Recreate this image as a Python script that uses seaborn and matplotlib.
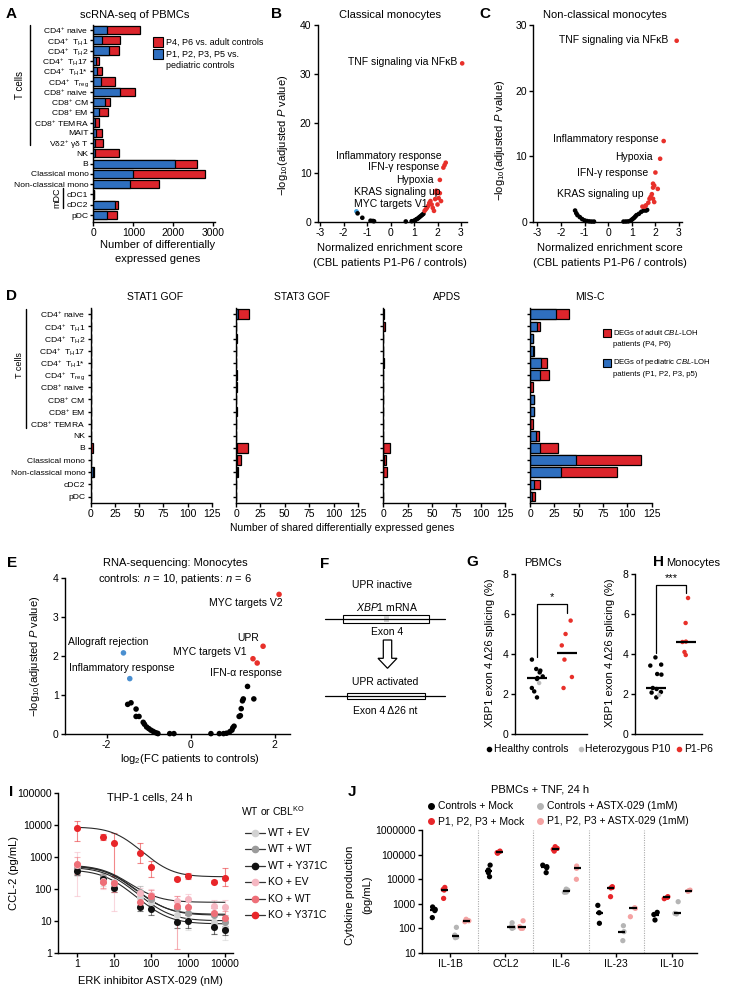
import numpy as np
import pandas as pd
import matplotlib
matplotlib.use('Agg')
import matplotlib.pyplot as plt
import seaborn as sns
from matplotlib.lines import Line2D
from matplotlib.patches import Rectangle, Polygon
from matplotlib.ticker import NullLocator

# ---------------- DATA ----------------
# Panel A
a_cells = [r'CD4$^{+}$ naive', r'CD4$^{+}$  T$_{\rm H}$1', r'CD4$^{+}$  T$_{\rm H}$2', r'CD4$^{+}$  T$_{\rm H}$17',
           r'CD4$^{+}$  T$_{\rm H}$1*', r'CD4$^{+}$  T$_{\rm reg}$', r'CD8$^{+}$ naive', r'CD8$^{+}$ CM', r'CD8$^{+}$ EM',
           r'CD8$^{+}$ TEMRA', 'MAIT', r'Vδ2$^{+}$ γδ T', 'NK', 'B', 'Classical mono', 'Non-classical mono',
           'cDC1', 'cDC2', 'pDC']
a_pediatric = [350, 210, 390, 60, 85, 190, 670, 300, 150, 45, 70, 50, 40, 2040, 1000, 910, 15, 540, 330]
a_total = [1170, 670, 650, 150, 225, 540, 1040, 420, 375, 140, 210, 233, 640, 2600, 2800, 1630, 25, 625, 600]

# Panel B
b_nes = [-1.45, -1.4, -1.2, -0.85, -0.75, -0.7, 0.65, 0.9, 1.0, 1.05, 1.1, 1.15, 1.2, 1.25, 1.3, 1.35, 1.4,
         1.45, 1.5, 1.55, 1.6, 1.65, 1.7, 1.75, 1.8, 1.85, 1.9, 1.95, 2.0, 2.05, 2.1, 2.15, 2.0, 1.95, 2.1, 2.25, 2.3, 2.35, 3.05]
b_logp = [2.1, 1.7, 0.8, 0.2, 0.15, 0.1, 0.05, 0.1, 0.2, 0.3, 0.5, 0.6, 0.8, 1.0, 1.2, 1.4, 1.6,
          2.2, 2.5, 2.8, 3.2, 3.8, 4.2, 3.5, 2.8, 2.2, 4.6, 5.8, 6.0, 4.8, 5.8, 4.2, 3.5, 6.3, 8.5, 11.0, 11.5, 12.0, 32.2]
b_cls = ['down'] + ['ns'] * 16 + ['up'] * 22
b_labels = ['TNF signaling via NFκB', 'Inflammatory response', 'IFN-γ response', 'Hypoxia', 'KRAS signaling up', 'MYC targets V1']
b_label_x = [2.83, 2.18, 2.08, 1.85, 2.11, 1.57]
b_label_y = [32.5, 13.4, 11.2, 8.5, 6.0, 3.7]

# Panel C
c_nes = [-1.4, -1.35, -1.3, -1.2, -1.1, -1.0, -0.9, -0.8, -0.7, -0.6,
         0.65, 0.75, 0.85, 0.95, 1.0, 1.05, 1.1, 1.15, 1.2, 1.3, 1.4, 1.5, 1.6, 1.65,
         1.45, 1.55, 1.6, 1.7, 1.75, 1.8, 1.85, 1.9, 1.95, 1.9, 1.95, 2.1, 1.9, 2.0, 2.2, 2.35, 2.9]
c_logp = [1.7, 1.3, 1.0, 0.7, 0.4, 0.2, 0.1, 0.05, 0.02, 0.02,
          0.02, 0.03, 0.05, 0.15, 0.3, 0.45, 0.6, 0.8, 1.0, 1.2, 1.5, 1.7, 1.7, 1.8,
          2.3, 2.3, 2.5, 2.9, 3.5, 3.8, 4.2, 3.5, 3.0, 5.8, 5.5, 5.0, 5.2, 7.5, 9.6, 12.3, 27.6]
c_cls = ['ns'] * 24 + ['up'] * 17
c_labels = ['TNF signaling via NFκB', 'Inflammatory response', 'Hypoxia', 'IFN-γ response', 'KRAS signaling up']
c_label_x = [2.55, 2.12, 1.885, 1.70, 1.49]
c_label_y = [27.7, 12.6, 9.9, 7.5, 4.2]

# Panel D
d_cells = [r'CD4$^{+}$ naive', r'CD4$^{+}$  T$_{\rm H}$1', r'CD4$^{+}$  T$_{\rm H}$2', r'CD4$^{+}$  T$_{\rm H}$17',
           r'CD4$^{+}$  T$_{\rm H}$1*', r'CD4$^{+}$  T$_{\rm reg}$', r'CD8$^{+}$ naive', r'CD8$^{+}$ CM', r'CD8$^{+}$ EM',
           r'CD8$^{+}$ TEMRA', 'NK', 'B', 'Classical mono', 'Non-classical mono', 'cDC2', 'pDC']
d_titles = ['STAT1 GOF', 'STAT3 GOF', 'APDS', 'MIS-C']
stat1_total = [0, 0, 0, 0, 0, 0, 0, 0, 0, 0, 0, 2, 0, 3, 0, 0]
stat1_ped = [0, 0, 0, 0, 0, 0, 0, 0, 0, 0, 0, 0, 0, 2, 0, 0]
stat3_total = [13, 0, 1, 0, 0, 1.5, 1, 0, 1, 0, 0, 12, 5, 2, 0, 0]
stat3_ped = [2, 0, 0, 0, 0, 0, 0, 0, 0, 0, 0, 1, 1, 1, 0, 0]
apds_total = [1, 2, 0, 0, 1, 0, 0, 0, 0, 0, 0, 7, 3, 4, 0, 0]
apds_ped = [0, 0, 0, 0, 0, 0, 0, 0, 0, 0, 0, 0, 1, 0, 0, 0]
misc_total = [40, 10.6, 3.5, 4, 17, 20, 3, 4, 4, 3, 9, 29, 114, 89, 10, 5]
misc_ped = [27, 7, 3, 3, 11, 10, 0.5, 4, 4, 0.5, 6, 10, 47, 32, 4.5, 2]

# Panel E
e_fc = [2.1, 1.72, 1.48, 1.58, -1.6, -1.45,
        -1.5, -1.42, -1.3, -1.3, -1.23, -1.13, -1.1, -1.05, -1.0, -0.95, -0.9, -0.85, -0.8, -0.78, -0.5, -0.4,
        0.48, 0.68, 0.78, 0.85, 0.93, 0.98, 1.0, 1.03, 1.15, 1.18, 1.2, 1.23, 1.25, 1.5, 1.35]
e_logp = [3.58, 2.25, 1.93, 1.82, 2.08, 1.42,
          0.76, 0.8, 0.64, 0.45, 0.45, 0.3, 0.25, 0.18, 0.14, 0.1, 0.07, 0.04, 0.02, 0.01, 0.01, 0.01,
          0.01, 0.01, 0.01, 0.02, 0.06, 0.1, 0.16, 0.2, 0.45, 0.47, 0.65, 0.85, 0.9, 0.9, 1.22]
e_cls = ['up'] * 4 + ['down'] * 2 + ['ns'] * 31
e_labels = ['MYC targets V2', 'UPR', 'MYC targets V1', 'IFN-α response', 'Allograft rejection', 'Inflammatory response']
e_label_x = [2.185, 1.62, 1.34, 2.17, -2.91, -2.89]
e_label_y = [3.36, 2.46, 2.1, 1.56, 2.36, 1.69]
e_label_ha = ['right', 'right', 'right', 'right', 'left', 'left']

# Panel G / H
g_group = ['Controls'] * 11 + ['Patients'] * 6
g_kind = ['Healthy controls'] * 10 + ['Heterozygous P10'] + ['P1-P6'] * 6
g_vals = [3.72, 3.17, 3.25, 3.08, 2.88, 2.8, 2.75, 2.3, 2.13, 1.83, 2.55, 5.67, 5.0, 4.43, 3.72, 2.85, 2.3]
h_group = ['Controls'] * 11 + ['Patients'] * 6
h_kind = ['Healthy controls'] * 10 + ['Heterozygous P10'] + ['P1-P6'] * 6
h_vals = [3.83, 3.47, 3.42, 3.0, 2.97, 2.3, 2.25, 2.1, 2.07, 1.83, 1.95, 6.8, 5.55, 4.6, 4.62, 4.1, 3.95]

# Panel I
i_doses = [1, 5, 10, 50, 100, 500, 1000, 5000, 10000]
i_names = ['WT + EV', 'WT + WT', 'WT + Y371C', 'KO + EV', 'KO + WT', 'KO + Y371C']
i_vals = {
    'WT + EV': [420, 190, 160, 55, 40, 15, 11, 9, 6],
    'WT + WT': [450, 230, 150, 80, 50, 25, 18, 15, 9],
    'WT + Y371C': [370, 200, 110, 28, 23, 9.5, 10, 6.3, 5.2],
    'KO + EV': [550, 180, 150, 75, 65, 42, 47, 30, 27],
    'KO + WT': [600, 170, 150, 40, 60, 30, 28, 17, 12],
    'KO + Y371C': [8200, 4300, 2800, 1300, 480, 210, 260, 170, 220],
}
i_lo = {
    'WT + EV': [250, 120, 90, 30, 25, 8, 5, 4, 2.5],
    'WT + WT': [300, 160, 100, 50, 35, 15, 10, 8, 5],
    'WT + Y371C': [270, 150, 80, 20, 15, 6, 6, 4, 3.5],
    'KO + EV': [60, 100, 20, 40, 40, 25, 30, 20, 15],
    'KO + WT': [300, 110, 80, 25, 35, 1.3, 15, 10, 6],
    'KO + Y371C': [3100, 3500, 250, 650, 240, 190, 200, 150, 120],
}
i_hi = {
    'WT + EV': [600, 280, 280, 90, 60, 25, 20, 15, 10],
    'WT + WT': [650, 320, 240, 120, 75, 40, 28, 25, 15],
    'WT + Y371C': [480, 260, 150, 38, 32, 14, 15, 9, 7],
    'KO + EV': [1400, 300, 260, 110, 100, 60, 70, 45, 45],
    'KO + WT': [1000, 250, 250, 70, 90, 60, 45, 25, 20],
    'KO + Y371C': [13500, 5200, 5500, 2800, 780, 240, 320, 195, 460],
}
# fitted dose-response parameters: top, bottom, EC50, Hill
i_fit = {
    'WT + EV': (480, 10, 9, 1.2),
    'WT + WT': (520, 15, 10, 1.2),
    'WT + Y371C': (400, 8, 8, 1.2),
    'KO + EV': (560, 38, 9, 1.2),
    'KO + WT': (540, 16, 9, 1.2),
    'KO + Y371C': (8800, 240, 15, 1.3),
}

# Panel J
j_cytokines = ['IL-1B', 'CCL2', 'IL-6', 'IL-23', 'IL-10']
j_conditions = ['Controls + Mock', 'P1, P2, P3 + Mock', 'Controls + ASTX-029 (1mM)', 'P1, P2, P3 + ASTX-029 (1mM)']
j_ctrl_mock = [[730, 580, 520, 270], [37000, 23400, 18300, 12500], [37000, 32000, 29000, 18300], [850, 425, 158], [440, 360, 215]]
j_pat_mock = [[4570, 3790, 3560, 1630], [138000, 131000, 120000, 113000], [209000, 178000, 162000, 138000], [4900, 4600, 4360, 1920], [1920, 1800, 1590]]
j_ctrl_astx = [[108, 52, 41, 43], [166, 115, 98, 105], [3900, 3540, 2950, 2900], [126, 72, 31], [1200, 400, 380]]
j_pat_astx = [[230, 200, 183], [200, 115, 98, 98], [34000, 27400, 9800], [680, 640, 293], [3540, 3160, 3350]]

# ---------------- STYLE ----------------
sns.set_theme(style='ticks')
plt.rcParams['font.family'] = ['Liberation Sans', 'DejaVu Sans']
plt.rcParams['mathtext.fontset'] = 'custom'
plt.rcParams['mathtext.rm'] = 'Liberation Sans'
plt.rcParams['mathtext.it'] = 'Liberation Sans:italic'
plt.rcParams['mathtext.bf'] = 'Liberation Sans:bold'
plt.rcParams['axes.edgecolor'] = 'black'
plt.rcParams['axes.unicode_minus'] = False
plt.rcParams['xtick.color'] = 'black'
plt.rcParams['ytick.color'] = 'black'
plt.rcParams['text.color'] = 'black'

RED = '#dc252c'
BLUE = '#2f6fbf'
PRED = '#e8302a'
LBLUE = '#3d9ede'
EBLUE = '#4a8fd0'

W, H = 730, 999
fig = plt.figure(figsize=(W / 100, H / 100), dpi=100)
fig.patch.set_facecolor('white')


def add_ax(l, t, r, b):
    return fig.add_axes([l / W, 1 - b / H, (r - l) / W, (b - t) / H])


def ftext(x, y, s, **kw):
    kw.setdefault('ha', 'center')
    kw.setdefault('va', 'center')
    kw.setdefault('fontsize', 8)
    return fig.text(x / W, 1 - y / H, s, **kw)


def style(ax, lw=1.0):
    for s in ['top', 'right']:
        ax.spines[s].set_visible(False)
    for s in ['left', 'bottom']:
        ax.spines[s].set_linewidth(lw)
        ax.spines[s].set_color('black')
    ax.tick_params(length=3, width=lw, labelsize=7.5, pad=1.5, colors='black')
    ax.set_facecolor('none')
    ax.grid(False)
    ax.set_xlabel('')
    ax.set_ylabel('')


def fig_line(xs, ys, **kw):
    fig.add_artist(Line2D([x / W for x in xs], [1 - y / H for y in ys], transform=fig.transFigure, **kw))


def fig_rect(l, t, r, b, **kw):
    fig.add_artist(Rectangle((l / W, 1 - b / H), (r - l) / W, (b - t) / H, transform=fig.transFigure, **kw))


def letter(x, y, s):
    ftext(x, y, s, fontsize=11, fontweight='bold')


# ---------------- PANEL A ----------------
axA = add_ax(93.3, 25, 215, 221.7)
sns.barplot(x=a_total, y=a_cells, order=a_cells, orient='h', color=RED, saturation=1,
            edgecolor='black', linewidth=0.9, errorbar=None, ax=axA)
sns.barplot(x=a_pediatric, y=a_cells, order=a_cells, orient='h', color=BLUE, saturation=1,
            edgecolor='black', linewidth=0.9, errorbar=None, ax=axA)
style(axA)
axA.set_xlim(0, 3042)
axA.set_ylim(18.65, -0.49)
axA.set_xticks([0, 1000, 2000, 3000])
axA.tick_params(axis='y', labelsize=6.1, length=2)
letter(11, 14, 'A')
ftext(135, 15, 'scRNA-seq of PBMCs')
ftext(158, 245, 'Number of differentially')
ftext(158, 259, 'expressed genes')
fig_line([30, 30], [25, 145], color='black', lw=1)
ftext(20, 85, 'T cells', rotation=90, fontsize=7)
fig_line([63, 63], [188, 208], color='black', lw=1)
ftext(57, 198, 'mDC', rotation=90, fontsize=6.5)
fig_rect(153, 37, 163, 47, facecolor=RED, edgecolor='black', lw=0.8)
ftext(166, 42, 'P4, P6 vs. adult controls', ha='left', fontsize=6.5)
fig_rect(153, 49, 163, 59, facecolor=BLUE, edgecolor='black', lw=0.8)
ftext(166, 54, 'P1, P2, P3, P5 vs.', ha='left', fontsize=6.5)
ftext(166, 66, 'pediatric controls', ha='left', fontsize=6.5)

# ---------------- PANEL B ----------------
axB = add_ax(317.7, 25, 467, 221.7)
sns.scatterplot(x=b_nes, y=b_logp, hue=b_cls, palette={'up': PRED, 'down': LBLUE, 'ns': 'black'},
                s=11, linewidth=0, legend=False, ax=axB, clip_on=False, zorder=3)
style(axB)
axB.set_xlim(-3.098, 3.255)
axB.set_ylim(0, 40)
axB.set_xticks([-3, -2, -1, 0, 1, 2, 3])
axB.set_yticks([0, 10, 20, 30, 40])
for s, x, y in zip(b_labels, b_label_x, b_label_y):
    axB.text(x, y, s, ha='right', va='center', fontsize=7.5)
letter(277, 14, 'B')
ftext(390, 15, 'Classical monocytes')
ftext(283, 135, '−log$_{10}$(adjusted $P$ value)', rotation=90)
ftext(390, 248, 'Normalized enrichment score')
ftext(390, 263, '(CBL patients P1-P6 / controls)')

# ---------------- PANEL C ----------------
axC = add_ax(533.3, 25, 681.7, 221.7)
sns.scatterplot(x=c_nes, y=c_logp, hue=c_cls, palette={'up': PRED, 'ns': 'black'},
                s=11, linewidth=0, legend=False, ax=axC, clip_on=False, zorder=3)
style(axC)
axC.set_xlim(-3.169, 3.113)
axC.set_ylim(0, 30)
axC.set_xticks([-3, -2, -1, 0, 1, 2, 3])
axC.set_yticks([0, 10, 20, 30])
for s, x, y in zip(c_labels, c_label_x, c_label_y):
    axC.text(x, y, s, ha='right', va='center', fontsize=7.5)
letter(485, 14, 'C')
ftext(605, 15, 'Non-classical monocytes')
ftext(500, 140, '−log$_{10}$(adjusted $P$ value)', rotation=90)
ftext(610, 248, 'Normalized enrichment score')
ftext(610, 263, '(CBL patients P1-P6 / controls)')

# ---------------- PANEL D ----------------
d_pos = [(90.7, 211.7), (236, 358), (383.3, 505), (530, 651.7)]
d_tot = [stat1_total, stat3_total, apds_total, misc_total]
d_ped = [stat1_ped, stat3_ped, apds_ped, misc_ped]
d_title_x = [155, 302, 447, 590]
for k in range(4):
    l, r = d_pos[k]
    ax = add_ax(l, 308.2, r, 502.7)
    sns.barplot(x=d_tot[k], y=d_cells, order=d_cells, orient='h', color=RED, saturation=1,
                edgecolor='black', linewidth=0.9, errorbar=None, ax=ax)
    sns.barplot(x=d_ped[k], y=d_cells, order=d_cells, orient='h', color=BLUE, saturation=1,
                edgecolor='black', linewidth=0.9, errorbar=None, ax=ax)
    style(ax)
    ax.set_xlim(0, 125)
    ax.set_ylim(15.5, -0.5)
    ax.set_xticks([0, 25, 50, 75, 100, 125])
    ax.tick_params(axis='y', labelsize=6.1, length=2.5)
    if k > 0:
        ax.set_yticklabels([])
    ftext(d_title_x[k], 297, d_titles[k], fontsize=7.5)
letter(12, 296, 'D')
fig_line([25.7, 25.7], [309, 428], color='black', lw=1)
ftext(19, 365, 'T cells', rotation=90, fontsize=6.5)
ftext(342, 528, 'Number of shared differentially expressed genes', fontsize=7.5)
fig_rect(603, 329, 610.5, 337, facecolor=RED, edgecolor='black', lw=0.8)
ftext(613, 333, 'DEGs of adult $CBL$-LOH', ha='left', fontsize=5.6)
ftext(613, 345, 'patients (P4, P6)', ha='left', fontsize=5.6)
fig_rect(603, 359, 610.5, 367, facecolor=BLUE, edgecolor='black', lw=0.8)
ftext(613, 363, 'DEGs of pediatric $CBL$-LOH', ha='left', fontsize=5.6)
ftext(613, 375, 'patients (P1, P2, P3, p5)', ha='left', fontsize=5.6)

# ---------------- PANEL E ----------------
axE = add_ax(65, 578, 290, 734)
sns.scatterplot(x=e_fc, y=e_logp, hue=e_cls, palette={'up': PRED, 'down': EBLUE, 'ns': 'black'},
                s=16, linewidth=0, legend=False, ax=axE, clip_on=False, zorder=3)
style(axE)
axE.set_xlim(-2.99, 2.36)
axE.set_ylim(0, 4)
axE.set_xticks([-2, 0, 2])
axE.set_yticks([0, 1, 2, 3, 4])
for s, x, y, ha in zip(e_labels, e_label_x, e_label_y, e_label_ha):
    axE.text(x, y, s, ha=ha, va='center', fontsize=7.5)
letter(12, 563, 'E')
ftext(175, 563, 'RNA-sequencing: Monocytes')
ftext(175, 579, 'controls: $n$ = 10, patients: $n$ = 6')
ftext(35, 656, '−log$_{10}$(adjusted $P$ value)', rotation=90)
ftext(190, 759, 'log$_{2}$(FC patients to controls)')

# ---------------- PANEL F (diagram) ----------------
letter(325, 564, 'F')
ftext(382, 585, 'UPR inactive', fontsize=7.5)
ftext(387, 607, '$XBP1$ mRNA', fontsize=7.5)
fig_line([325, 445], [619, 619], color='black', lw=0.9)
fig_rect(343, 615, 429, 623, facecolor='white', edgecolor='black', lw=0.8)
fig_rect(383.5, 615.6, 389, 622.4, facecolor='#cfcfcf', edgecolor='none')
ftext(387, 632, 'Exon 4', fontsize=7.5)
arrow_pts = [(383.3, 640), (391.7, 640), (391.7, 658.3), (397, 658.3), (387.5, 668.3), (378, 658.3), (383.3, 658.3)]
fig.add_artist(Polygon([(x / W, 1 - y / H) for x, y in arrow_pts], closed=True, transform=fig.transFigure,
                       facecolor='white', edgecolor='black', lw=0.9))
ftext(385, 682, 'UPR activated', fontsize=7.5)
fig_line([325, 445], [696, 696], color='black', lw=0.9)
fig_rect(346.7, 692.7, 425, 699.3, facecolor='white', edgecolor='black', lw=0.8)
ftext(385, 711, 'Exon 4 Δ26 nt', fontsize=7.5)

# ---------------- PANEL G / H ----------------
gh_pal = {'Healthy controls': 'black', 'Heterozygous P10': '#bdbdbd', 'P1-P6': PRED}
gh_order = ['Controls', 'Patients']
np.random.seed(7)


def strip_panel(pos, xlim, groups, kinds, vals, bracket, star, title, title_x, ylabel_x):
    ax = add_ax(*pos)
    sns.stripplot(x=groups, y=vals, hue=kinds, order=gh_order, palette=gh_pal, jitter=0.2, size=3.2,
                  linewidth=0, legend=False, ax=ax, zorder=3, clip_on=False)
    style(ax)
    ax.set_xlim(*xlim)
    ax.set_ylim(0, 8)
    ax.set_yticks([0, 2, 4, 6, 8])
    ax.set_xticks([])
    vals = np.array(vals)
    groups = np.array(groups)
    for i, g in enumerate(gh_order):
        m = np.median(vals[groups == g])
        ax.hlines(m, i - 0.33, i + 0.33, color='black', lw=1.6, zorder=4)
    top, ldown, rdown = bracket
    ax.plot([0, 0, 1, 1], [ldown, top, top, rdown], color='black', lw=0.9)
    ax.text(0.5, top + 0.08, star, ha='center', va='bottom', fontsize=8)
    ftext(title_x, 563, title)
    ftext(ylabel_x, 653, 'XBP1 exon 4 Δ26 splicing (%)', rotation=90)
    return ax


strip_panel((515, 574, 587, 734), (-0.733, 1.667), g_group, g_kind, g_vals, (6.5, 3.85, 6.05), '*', 'PBMCs', 543, 490)
strip_panel((635, 574, 702, 734), (-0.7, 1.533), h_group, h_kind, h_vals, (7.45, 4.05, 7.05), '***', 'Monocytes', 693, 610)
letter(472, 562, 'G')
letter(659, 562, 'H')
for mx, tx, lab, col in [(489, 494, 'Healthy controls', 'black'), (581, 585, 'Heterozygous P10', '#bdbdbd'),
                         (679, 684, 'P1-P6', PRED)]:
    fig_line([mx], [749], marker='o', markersize=3, color=col, lw=0)
    ftext(tx, 749, lab, ha='left', fontsize=7.5)

# ---------------- PANEL I ----------------
i_colors = {'WT + EV': '#d2d2d2', 'WT + WT': '#9b9b9b', 'WT + Y371C': '#111111',
            'KO + EV': '#f5b7c2', 'KO + WT': '#ee6f78', 'KO + Y371C': '#e8262a'}
axI = add_ax(58.3, 793.3, 233.3, 952.7)
axI.set_xscale('log')
axI.set_yscale('log')
dose_grid = np.logspace(0, 4, 200)
for name in i_names:
    v = np.array(i_vals[name], dtype=float)
    lo = np.array(i_lo[name], dtype=float)
    hi = np.array(i_hi[name], dtype=float)
    axI.errorbar(i_doses, v, yerr=[v - lo, hi - v], fmt='none', ecolor=i_colors[name], alpha=0.55,
                 elinewidth=0.8, capsize=2, capthick=0.8, zorder=1)
for name in i_names:
    top, bot, ec, hill = i_fit[name]
    yfit = bot + (top - bot) / (1 + (dose_grid / ec) ** hill)
    sns.lineplot(x=dose_grid, y=yfit, color='#2a2a2a', lw=0.8, ax=axI, errorbar=None, legend=False, zorder=2)
for name in i_names:
    sns.scatterplot(x=i_doses, y=i_vals[name], color=i_colors[name], s=26, linewidth=0, ax=axI,
                    zorder=3, clip_on=False, legend=False)
style(axI)
axI.set_xlim(10 ** -0.497, 10 ** 4.23)
axI.set_ylim(1, 1e5)
axI.set_xticks([1, 10, 100, 1000, 10000])
axI.set_xticklabels(['1', '10', '100', '1000', '10000'])
axI.set_yticks([1, 10, 100, 1000, 10000, 100000])
axI.set_yticklabels(['1', '10', '100', '1000', '10000', '100000'])
axI.xaxis.set_minor_locator(NullLocator())
axI.yaxis.set_minor_locator(NullLocator())
letter(11, 792, 'I')
ftext(150, 797, 'THP-1 cells, 24 h')
ftext(150, 981, 'ERK inhibitor ASTX-029 (nM)')
ftext(14, 873, 'CCL-2 (pg/mL)', rotation=90)
ftext(241, 811, 'WT or CBL$^{\\rm KO}$', ha='left', fontsize=7.5)
for k, name in enumerate(i_names):
    yy = 832.7 + k * 16.5
    fig_line([245, 265], [yy, yy], color='#333333', lw=0.9)
    fig_line([255], [yy], marker='o', markersize=4.5, color=i_colors[name], lw=0)
    ftext(268, yy, name, ha='left', fontsize=7.5)

# ---------------- PANEL J ----------------
rows = []
j_lists = [j_ctrl_mock, j_pat_mock, j_ctrl_astx, j_pat_astx]
for cond, lst in zip(j_conditions, j_lists):
    for cyt, vals in zip(j_cytokines, lst):
        for v in vals:
            rows.append({'cyt': cyt, 'cond': cond, 'val': v})
j_df = pd.DataFrame(rows)
j_pal = {j_conditions[0]: 'black', j_conditions[1]: '#e8262a', j_conditions[2]: '#b5b5b5', j_conditions[3]: '#f4a3a3'}
axJ = add_ax(421.7, 830, 696.7, 952.7)
axJ.set_yscale('log')
sns.stripplot(data=j_df, x='cyt', y='val', hue='cond', order=j_cytokines, hue_order=j_conditions,
              palette=j_pal, dodge=True, jitter=0.2, size=3.8, linewidth=0, legend=False, ax=axJ, zorder=3)
offs = [-0.3, -0.1, 0.1, 0.3]
for i, cyt in enumerate(j_cytokines):
    for k, cond in enumerate(j_conditions):
        m = j_df[(j_df.cyt == cyt) & (j_df.cond == cond)]['val'].median()
        axJ.hlines(m, i + offs[k] - 0.065, i + offs[k] + 0.065, color='black', lw=1.6, zorder=4)
for sep in [0.5, 1.5, 2.5, 3.5]:
    axJ.axvline(sep, color='#aaaaaa', ls=(0, (1, 1.2)), lw=0.8, zorder=0)
style(axJ)
axJ.set_xlim(-0.51, 4.45)
axJ.set_ylim(10, 1e6)
axJ.set_yticks([10, 100, 1000, 10000, 100000, 1000000])
axJ.set_yticklabels(['10', '100', '1000', '10000', '100000', '1000000'])
axJ.yaxis.set_minor_locator(NullLocator())
letter(352, 792, 'J')
ftext(540, 789, 'PBMCs + TNF, 24 h')
ftext(350, 895, 'Cytokine production', rotation=90)
ftext(367, 895, '(pg/mL)', rotation=90)
for (mx, my), cond in zip([(431, 806), (431, 821), (540, 806), (540, 821)], j_conditions):
    fig_line([mx], [my], marker='o', markersize=4, color=j_pal[cond], lw=0)
    ftext(mx + 7, my, cond, ha='left', fontsize=7.5)

fig.savefig('out.png', dpi=100, facecolor='white')
